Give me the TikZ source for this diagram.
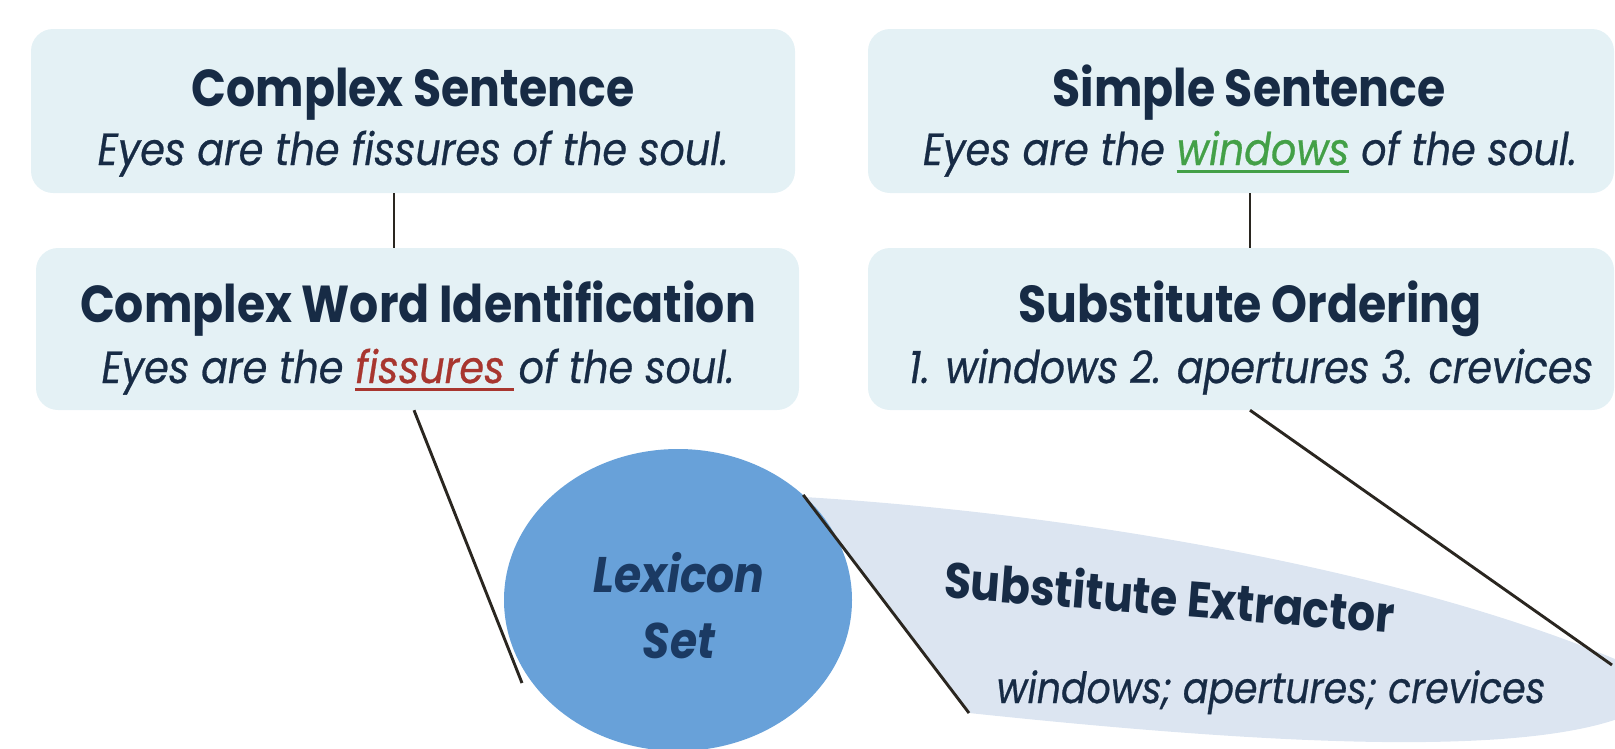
\documentclass[tikz,border=0pt]{standalone}
\usepackage{fontspec}
\setmainfont[FakeStretch=0.88, ItalicFeatures={FakeBold=0.6}]{Poppins}
\usetikzlibrary{shapes.geometric}
\definecolor{boxfill}{HTML}{E4F1F5}
\definecolor{lexfill}{HTML}{68A1D9}
\definecolor{extfill}{HTML}{DCE5F1}
\definecolor{ink}{HTML}{172B45}
\definecolor{lexink}{HTML}{1B3A63}
\definecolor{redw}{HTML}{A8362F}
\definecolor{greenw}{HTML}{43A047}
\definecolor{linec}{HTML}{2A2620}
\newcommand\ulword[2]{{\color{#1}\setbox0\hbox{#2}\rlap{\rule[-8pt]{\wd0}{2.8pt}}\box0}}
\begin{document}
\begin{tikzpicture}[x=1pt,y=-1pt,
  panel/.style={fill=boxfill, rounded corners=22pt, draw=none, inner sep=0pt},
  title/.style={anchor=base, text=ink, font=\fontsize{52}{60}\selectfont\bfseries, inner sep=0pt},
  sent/.style={anchor=base, text=ink, font=\fontsize{45}{54}\selectfont\itshape, inner sep=0pt},
  lextext/.style={anchor=base, text=lexink, font=\fontsize{50}{60}\selectfont\bfseries\itshape, inner sep=0pt},
  conn/.style={draw=linec, line width=2.9pt}]
\useasboundingbox (0,0) rectangle (1615,748);
\clip (0,0) rectangle (1615,748);
% panels
\node[panel, minimum width=764pt, minimum height=164pt] (b1) at (413,111) {};
\node[panel, minimum width=763pt, minimum height=162pt] (b2) at (417.5,329) {};
\node[panel, minimum width=746pt, minimum height=164pt] (b3) at (1241,111) {};
\node[panel, minimum width=746pt, minimum height=162pt] (b4) at (1241,329) {};
% texts
\node[title] (t1) at (413,106) {Complex Sentence};
\node[sent] (s1) at (413,165) {Eyes are the fissures of the soul.};
\node[title] (t2) at (418,322) {Complex Word Identification};
\node[sent] (s2) at (418,383) {Eyes are the \ulword{redw}{fissures\kern9pt}\kern5pt of the soul.};
\node[title] (t3) at (1249,106) {Simple Sentence};
\node[sent] (s3) at (1250,165) {Eyes are the \ulword{greenw}{windows} of the soul.};
\node[title] (t4) at (1250,322) {Substitute Ordering};
\node[sent] (s4) at (1251,383) {1. windows 2. apertures 3. crevices};
% substitute extractor region
\fill[extfill] (804,497) .. controls (1100,515) and (1460,580) .. (1670,684)
  .. controls (1620,765) and (1300,748) .. (969,713) -- cycle;
\node[title, font=\fontsize{50}{60}\selectfont\bfseries, rotate=-4.5] (ext) at (1168,615.5) {Substitute Extractor};
\node[sent, font=\fontsize{43}{52}\selectfont\itshape] (cands) at (1271,703) {windows; apertures; crevices};
% lexicon
\node[ellipse, fill=lexfill, minimum width=348pt, minimum height=302pt, inner sep=0pt] (lex) at (678,600) {};
\node[lextext] (lx1) at (679,592) {Lexicon};
\node[lextext] (lx2) at (679,658) {Set};
% connectors
\coordinate (c1) at (522,683);
\coordinate (c2) at (969,713);
\coordinate (c3) at (1612,665);
\draw[conn] (b1.south -| 394,0) -- (b2.north -| 394,0);
\draw[conn] (b3.south -| 1250,0) -- (b4.north -| 1250,0);
\draw[conn] (b2.south -| 414,0) -- (c1);
\draw[conn] (lex.40.5) -- (c2);
\draw[conn] (b4.south -| 1250,0) -- (c3);
\end{tikzpicture}
\end{document}
